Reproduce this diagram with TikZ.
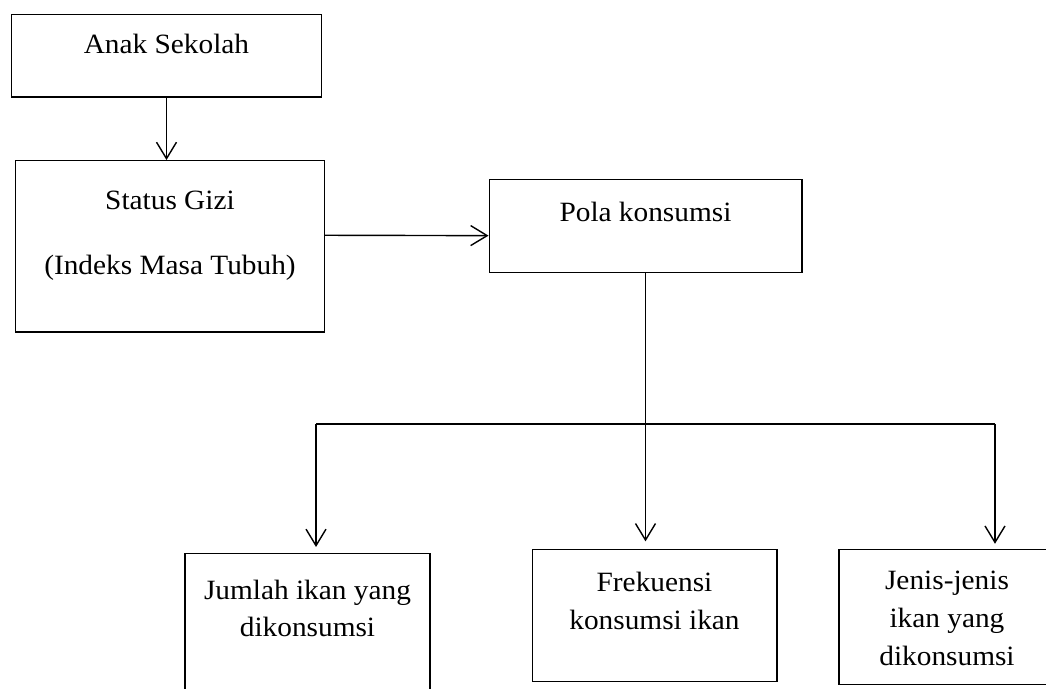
\documentclass[tikz,border=0pt]{standalone}
\usepackage{fontspec}
\setmainfont{Liberation Serif}[FakeStretch=1.05]
\usetikzlibrary{arrows.meta,positioning}

\begin{document}
\begin{tikzpicture}[
  x=0.02cm, y=-0.02cm,
  box/.style={draw,line width=0.6pt,align=center,inner sep=0pt,text height=4mm,font=\fontsize{15.9}{21.6}\selectfont},
  arr/.style={-{Straight Barb[length=3.3mm,width=4mm]},line width=0.8pt},
]
\useasboundingbox (0,0) rectangle (1046,689);
\clip (0,0) rectangle (1046,689);
\node[box,minimum width=62.2mm,minimum height=16.5mm,text depth=4.9mm] (anak) at (166.5,55.75) {Anak Sekolah};
\node[box,minimum width=61.7mm,minimum height=34.3mm,text height=13.3mm,text depth=2mm,below=12.5mm of anak,xshift=0.7mm] (status) {Status Gizi\\[15.4pt](Indeks Masa Tubuh)};
\node[box,minimum width=62.6mm,minimum height=18.7mm,text depth=5.8mm] (pola) at (645.5,226.15) {Pola konsumsi};
\node[box,minimum width=49mm,minimum height=29.3mm,text height=6.1mm,text depth=2mm] (jumlah) at (307.5,626.75) {Jumlah ikan yang\\dikonsumsi};
\node[box,minimum width=49mm,minimum height=26.4mm,text height=7.8mm,text depth=2mm] (frek) at (654.5,615.4) {Frekuensi\\konsumsi ikan};
\node[box,minimum width=43.2mm,minimum height=27mm,text height=21.3mm,text depth=2mm] (jenis) at (947,616.8) {Jenis-jenis\\ikan yang\\dikonsumsi};
\coordinate (bl) at (316,424);
\coordinate (br) at (995,424);
\draw[arr] (anak.south) -- (anak.south |- status.north);
\draw[arr] ([yshift=2.2mm]status.east) -- ([yshift=-1.9mm]pola.west);
\draw[line width=0.6pt] (bl) -- (br);
\draw[arr,shorten >=1.5mm] (pola.south) -- (pola.south |- frek.north);
\draw[arr,shorten >=1.2mm] (bl) -- (bl |- jumlah.north);
\draw[arr,shorten >=1mm] (br) -- (br |- jenis.north);
\end{tikzpicture}
\end{document}
